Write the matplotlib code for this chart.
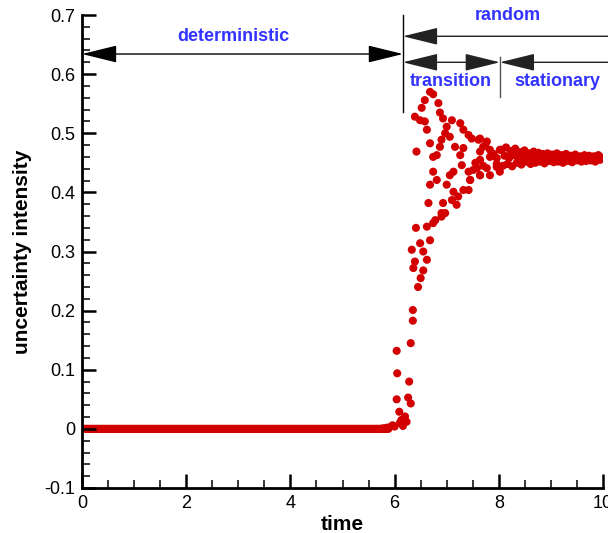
import numpy as np
import matplotlib
matplotlib.use("Agg")
import matplotlib.pyplot as plt

plt.rcParams['font.family'] = ['Liberation Sans', 'DejaVu Sans']

# ---------------- data ----------------
# deterministic phase: intensity stays at zero
baseline_level = 0.0
baseline_t = np.arange(0.0, 5.9, 0.02)
baseline_y = np.full_like(baseline_t, baseline_level)

# transition phase
trans_t = [5.78, 5.85, 5.91, 5.96, 6.00, 6.04, 6.04, 6.05, 6.09, 6.10, 6.13, 6.16,
           6.20, 6.23, 6.26, 6.28, 6.31, 6.31, 6.35, 6.35, 6.45, 6.50, 6.36, 6.55,
           6.39, 6.62, 6.33, 6.55, 6.49, 6.68,
           6.41, 6.62, 6.74, 6.78, 6.90, 6.90, 6.97, 6.65, 6.93, 7.10, 7.19, 7.22,
           7.32, 7.42, 7.13, 7.00, 6.68, 6.81, 7.45, 7.64, 7.58, 7.42, 6.74, 7.06,
           7.13, 7.29, 6.74, 6.81, 7.26, 6.42, 6.68, 6.87, 7.16, 7.32, 7.74, 6.90,
           7.61, 7.48, 7.42, 7.06, 6.97, 6.62, 7.32, 7.00, 7.26, 6.58, 7.10, 6.93,
           6.49, 6.39, 6.87, 6.52, 6.84, 6.58, 6.74, 6.68,
           7.64, 7.77, 7.70, 7.64, 7.83, 8.02, 7.83, 7.96, 7.64, 7.77, 7.96, 7.51,
           7.64, 7.83, 8.02, 7.45, 7.96, 7.90, 7.55, 7.70]
trans_y = [0.001, 0.002, 0.003, 0.006, 0.004, 0.050, 0.132, 0.094, 0.029, 0.010, 0.015, 0.005,
           0.021, 0.012, 0.053, 0.080, 0.043, 0.145, 0.183, 0.201, 0.240, 0.255, 0.272, 0.268,
           0.283, 0.286, 0.303, 0.300, 0.314, 0.319,
           0.340, 0.342, 0.348, 0.353, 0.359, 0.365, 0.365, 0.382, 0.382, 0.387, 0.379, 0.393,
           0.404, 0.404, 0.401, 0.413, 0.413, 0.421, 0.421, 0.429, 0.441, 0.435, 0.435, 0.429,
           0.435, 0.446, 0.460, 0.463, 0.463, 0.469, 0.483, 0.477, 0.477, 0.475, 0.480, 0.489,
           0.489, 0.491, 0.497, 0.494, 0.500, 0.506, 0.506, 0.511, 0.517, 0.520, 0.522, 0.525,
           0.522, 0.528, 0.535, 0.543, 0.551, 0.556, 0.566, 0.570,
           0.491, 0.486, 0.477, 0.469, 0.472, 0.472, 0.460, 0.458, 0.455, 0.441, 0.443, 0.438,
           0.429, 0.429, 0.435, 0.421, 0.448, 0.465, 0.450, 0.445]

# stationary phase
stat_y = [0.472, 0.445, 0.462, 0.476, 0.448, 0.458, 0.470, 0.444, 0.463, 0.474, 0.450, 0.457,
          0.468, 0.447, 0.460,
          0.471, 0.452, 0.458, 0.466, 0.448, 0.461, 0.469, 0.450, 0.456, 0.467, 0.452, 0.459,
          0.465, 0.449, 0.457, 0.466, 0.453,
          0.460, 0.464, 0.451, 0.458, 0.466, 0.452, 0.457, 0.463, 0.450, 0.459, 0.465, 0.453,
          0.456, 0.462, 0.451, 0.458, 0.464, 0.454, 0.457, 0.461, 0.452, 0.459, 0.463, 0.453,
          0.456, 0.462, 0.454, 0.458, 0.461, 0.452, 0.457, 0.463, 0.455, 0.459]
stat_t = np.linspace(8.05, 9.97, len(stat_y))

x_ticks = [0, 2, 4, 6, 8, 10]
x_ticklabels = ['0', '2', '4', '6', '8', '10']
y_ticks = [-0.1, 0.0, 0.1, 0.2, 0.3, 0.4, 0.5, 0.6, 0.7]
y_ticklabels = ['-0.1', '0', '0.1', '0.2', '0.3', '0.4', '0.5', '0.6', '0.7']

# ---------------- figure ----------------
fig = plt.figure(figsize=(6.08, 5.33), dpi=100)
ax = fig.add_axes([82/608, 1-488/533, (603-82)/608, (488-15)/533])

red = '#d20000'
ms = 34
ax.scatter(baseline_t, baseline_y, s=ms, c=red, edgecolors='none', zorder=1)
ax.scatter(trans_t, trans_y, s=ms, c=red, edgecolors='none', zorder=1)
ax.scatter(stat_t, stat_y, s=ms, c=red, edgecolors='none', zorder=1)

ax.set_xlim(0, 10)
ax.set_ylim(-0.1, 0.7)
ax.set_xticks(x_ticks)
ax.set_xticklabels(x_ticklabels)
ax.set_yticks(y_ticks)
ax.set_yticklabels(y_ticklabels)
ax.set_xticks(np.arange(0, 10.01, 0.5), minor=True)
ax.set_yticks(np.arange(-0.1, 0.701, 0.02), minor=True)

for s in ['top', 'right']:
    ax.spines[s].set_visible(False)
for s in ['left', 'bottom']:
    ax.spines[s].set_linewidth(2)

ax.tick_params(which='major', direction='in', length=10, width=1.8, labelsize=13, pad=5)
ax.tick_params(which='minor', direction='in', length=6, width=1.1)

ax.set_xlabel('time', fontsize=15, fontweight='bold', labelpad=2)
ax.set_ylabel('uncertainty intensity', fontsize=15, fontweight='bold', labelpad=9)

# ---------------- annotations ----------------
blue = '#3333ff'
hs = "head_length=1.1,head_width=0.27"

def harrow(x0, x1, y, style, color='black'):
    ax.annotate('', xy=(x1, y), xytext=(x0, y), annotation_clip=False,
                arrowprops=dict(arrowstyle=style + "," + hs, mutation_scale=20,
                                color=color, lw=1, shrinkA=0, shrinkB=0, clip_on=False))

harrow(0.0, 6.16, 0.634, '<|-|>')
harrow(6.16, 10.4, 0.664, '<|-', color='#222222')
harrow(6.16, 8.02, 0.620, '<|-|>', color='#222222')
harrow(8.02, 10.4, 0.620, '<|-', color='#222222')

ax.plot([6.16, 6.16], [0.70, 0.536], color='black', lw=1, clip_on=False)
ax.plot([8.02, 8.02], [0.629, 0.561], color='#555555', lw=1, clip_on=False)

tk = dict(color=blue, fontsize=13, fontweight='bold', ha='center', va='center')
ax.text(2.9, 0.663, 'deterministic', **tk)
ax.text(8.17, 0.699, 'random', clip_on=False, **tk)
ax.text(7.08, 0.587, 'transition', **tk)
ax.text(9.13, 0.587, 'stationary', **tk)

fig.savefig('out.png', dpi=100)
